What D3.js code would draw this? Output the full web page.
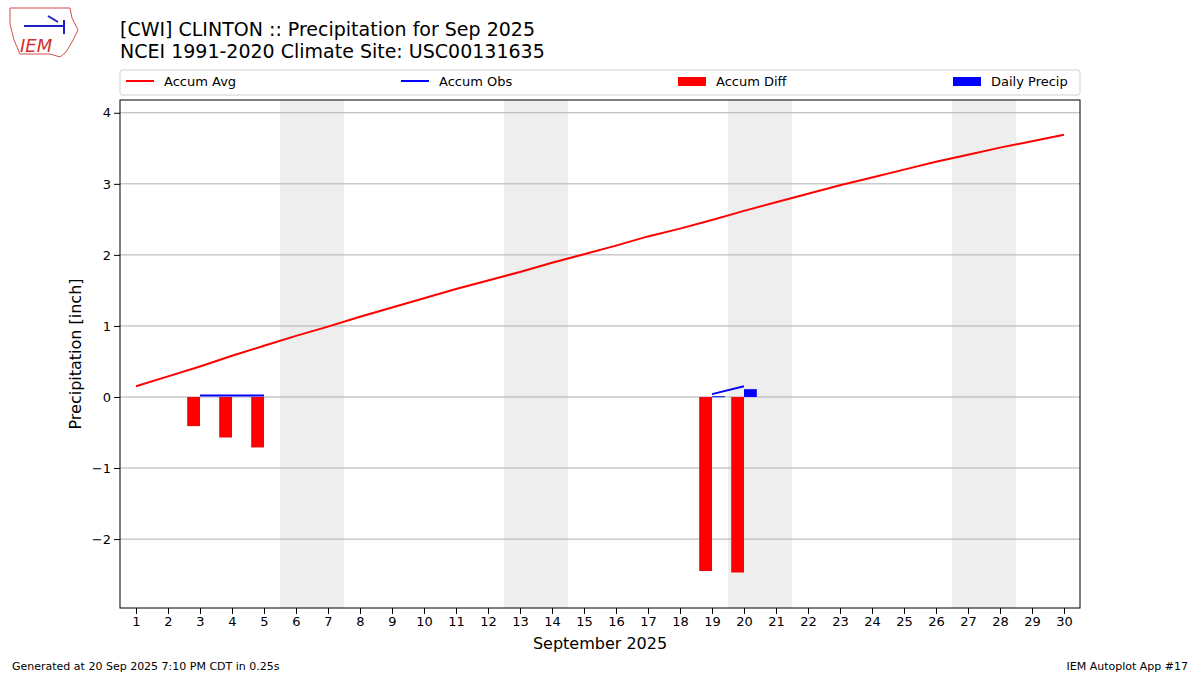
<!DOCTYPE html><html><head><meta charset="utf-8"><script src="https://cdn.jsdelivr.net/npm/d3@7"></script>
<style>body{margin:0;background:#fff}text{font-family:"DejaVu Sans",sans-serif}</style></head><body><svg id="c" width="1200" height="675"></svg>
<script>
const days=d3.range(1,31);
const accumAvg=[0.15,0.29,0.43,0.58,0.72,0.86,0.99,1.13,1.26,1.39,1.52,1.64,1.76,1.89,2.01,2.13,2.26,2.37,2.49,2.62,2.74,2.86,2.98,3.09,3.20,3.31,3.41,3.51,3.60,3.69];
const obsSegments=[[[3,0.02],[5,0.02]],[[19,0.04],[20,0.15]]];
const diffDays=[3,4,5,19,20];
const diffVals=[-0.41,-0.57,-0.71,-2.45,-2.47];
const precipDays=[19,20];
const precipVals=[0.01,0.11];
const weekends=[[5.5,7.5],[12.5,14.5],[19.5,21.5],[26.5,28.5]];
const yTicks=[-2,-1,0,1,2,3,4];
const svg=d3.select("#c");
const L=120,R=1080,T=100,B=608;
const x=d3.scaleLinear().domain([0.5,30.5]).range([L,R]);
const y=d3.scaleLinear().domain([-2.97,4.18]).range([B,T]);
const g=svg.append("g");
weekends.forEach(w=>g.append("rect").attr("x",x(w[0])).attr("y",T).attr("width",x(w[1])-x(w[0])).attr("height",B-T).attr("fill","#eeeeee"));
yTicks.forEach(t=>g.append("line").attr("x1",L).attr("x2",R).attr("y1",y(t)).attr("y2",y(t)).attr("stroke","#b0b0b0").attr("stroke-width",1));
diffDays.forEach((d,i)=>g.append("rect").attr("x",x(d-0.4)).attr("width",x(d)-x(d-0.4)).attr("y",y(Math.max(0,diffVals[i]))).attr("height",Math.abs(y(diffVals[i])-y(0))).attr("fill","#ff0000"));
precipDays.forEach((d,i)=>g.append("rect").attr("x",x(d)).attr("width",x(d+0.4)-x(d)).attr("y",y(precipVals[i])).attr("height",Math.max(1,y(0)-y(precipVals[i]))).attr("fill","#0000ff"));
g.append("path").datum(accumAvg).attr("d",d3.line().x((v,i)=>x(days[i])).y(v=>y(v))).attr("fill","none").attr("stroke","#ff0000").attr("stroke-width",2);
obsSegments.forEach(s=>g.append("path").datum(s).attr("d",d3.line().x(p=>x(p[0])).y(p=>y(p[1]))).attr("fill","none").attr("stroke","#0000ff").attr("stroke-width",2));
g.append("rect").attr("x",L).attr("y",T).attr("width",R-L).attr("height",B-T).attr("fill","none").attr("stroke","#000");
const xa=svg.append("g").attr("transform",`translate(0,${B})`).call(d3.axisBottom(x).tickValues(days).tickFormat(d3.format("d")).tickSizeOuter(0));
const ya=svg.append("g").attr("transform",`translate(${L},0)`).call(d3.axisLeft(y).tickValues(yTicks).tickFormat(d=>d<0?"\u2212"+(-d):d).tickSizeOuter(0));
[xa,ya].forEach(a=>{a.select(".domain").remove();a.selectAll("text").attr("font-size",13).attr("fill","#000").attr("font-family","DejaVu Sans");a.selectAll("line").attr("stroke","#000");});
svg.append("text").attr("x",600).attr("y",649).attr("text-anchor","middle").attr("font-size",16).text("September 2025");
svg.append("text").attr("transform","translate(81,354) rotate(-90)").attr("text-anchor","middle").attr("font-size",16).text("Precipitation [inch]");
svg.append("text").attr("x",120).attr("y",36).attr("font-size",19).text("[CWI] CLINTON :: Precipitation for Sep 2025");
svg.append("text").attr("x",120).attr("y",58).attr("font-size",19).text("NCEI 1991-2020 Climate Site: USC00131635");
// legend
svg.append("rect").attr("x",120).attr("y",70).attr("width",960).attr("height",25).attr("fill","#fff").attr("stroke","#d0d0d0").attr("rx",2);
const leg=[{t:"Accum Avg",c:"#ff0000",k:"l",x:126},{t:"Accum Obs",c:"#0000ff",k:"l",x:401},{t:"Accum Diff",c:"#ff0000",k:"r",x:678},{t:"Daily Precip",c:"#0000ff",k:"r",x:953}];
leg.forEach(l=>{if(l.k==="l")svg.append("line").attr("x1",l.x).attr("x2",l.x+28).attr("y1",81).attr("y2",81).attr("stroke",l.c).attr("stroke-width",2);
else svg.append("rect").attr("x",l.x).attr("y",77).attr("width",28).attr("height",9).attr("fill",l.c);
svg.append("text").attr("x",l.x+38).attr("y",86).attr("font-size",13).text(l.t);});
svg.append("text").attr("x",12).attr("y",670).attr("font-size",11).text("Generated at 20 Sep 2025 7:10 PM CDT in 0.25s");
svg.append("text").attr("x",1188).attr("y",670).attr("text-anchor","end").attr("font-size",11).text("IEM Autoplot App #17");
// logo
svg.append("path").attr("d","M10,8 L70,8 L72,18 L78,30 L72,42 L66,52 L60,57 L50,54 L20,54 L14,40 L10,24 Z").attr("fill","none").attr("stroke","#d05050").attr("stroke-width",1);
svg.append("text").attr("x",20).attr("y",52).attr("font-size",18).attr("font-style","italic").attr("font-family","DejaVu Serif").attr("fill","#d03030").text("IEM");
svg.append("path").attr("d","M24,26 L64,26 M48,16 L58,22 M64,20 L64,34").attr("stroke","#2020c0").attr("stroke-width",2).attr("fill","none");
</script></body></html>
